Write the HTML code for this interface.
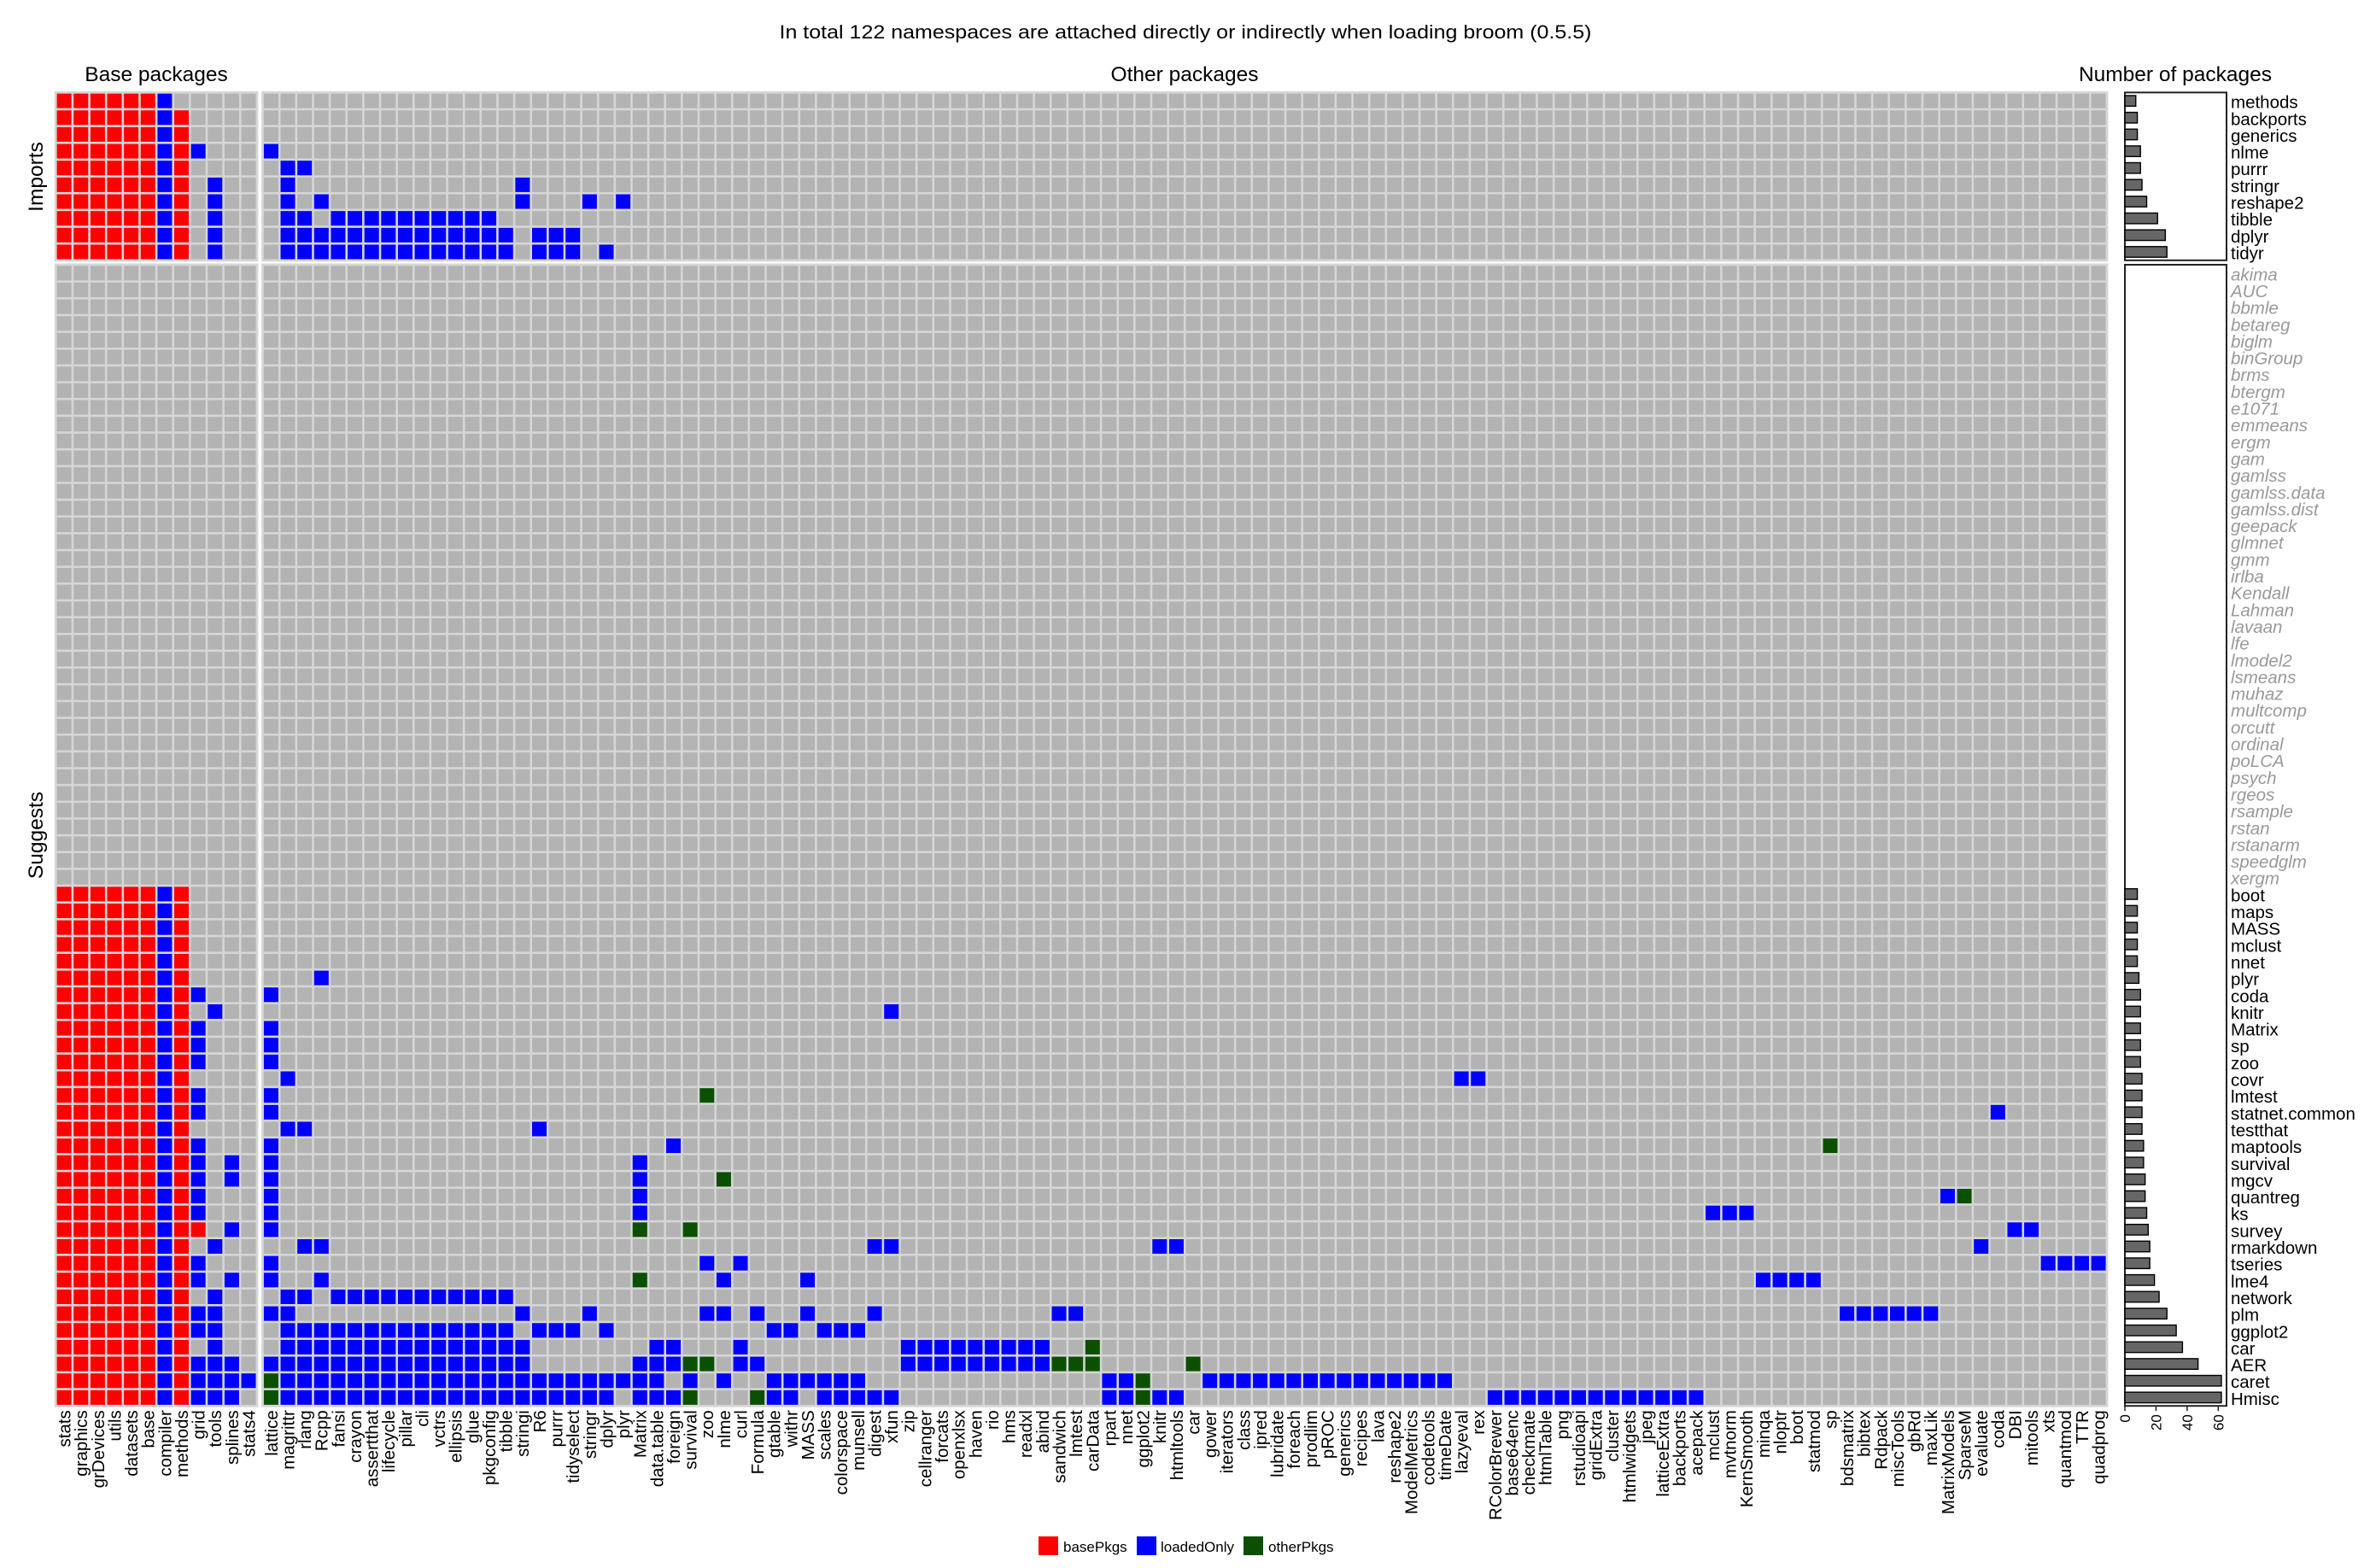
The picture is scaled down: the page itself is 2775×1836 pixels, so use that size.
<!DOCTYPE html>
<html><head><meta charset="utf-8"><title>broom namespaces</title>
<style>html,body{margin:0;padding:0;background:#fff}svg{display:block;font-family:"Liberation Sans",Arial,sans-serif}</style>
</head><body>
<svg id="chart" xmlns="http://www.w3.org/2000/svg" width="2775" height="1836" viewBox="0 0 2775 1836">
<rect width="2775" height="1836" fill="#fff"/>
<text x="1388" y="45" font-size="22.5" text-anchor="middle" textLength="951" lengthAdjust="spacingAndGlyphs">In total 122 namespaces are attached directly or indirectly when loading broom (0.5.5)</text>
<text x="183" y="95" font-size="24.5" text-anchor="middle">Base packages</text>
<text x="1387" y="95" font-size="24.5" text-anchor="middle">Other packages</text>
<text x="2547" y="95" font-size="24.5" text-anchor="middle">Number of packages</text>
<text x="50" y="207" font-size="24.5" text-anchor="middle" transform="rotate(-90 50 207)">Imports</text>
<text x="50" y="978" font-size="24.5" text-anchor="middle" transform="rotate(-90 50 978)">Suggests</text>
<g id="cells"></g>
<g id="bars"></g>
<g id="labels"></g>
<g>
<rect x="1216" y="1799" width="23" height="22" fill="#ff0000"/>
<text x="1245" y="1817" font-size="17">basePkgs</text>
<rect x="1331" y="1799" width="23" height="22" fill="#0000ff"/>
<text x="1359" y="1817" font-size="17">loadedOnly</text>
<rect x="1456" y="1799" width="23" height="22" fill="#0a5000"/>
<text x="1485" y="1817" font-size="17">otherPkgs</text>
</g>
</svg>
<script>
const baseCols = ["stats","graphics","grDevices","utils","datasets","base","compiler","methods","grid","tools","splines","stats4"];
const otherCols = ["lattice","magrittr","rlang","Rcpp","fansi","crayon","assertthat","lifecycle","pillar","cli","vctrs","ellipsis","glue","pkgconfig","tibble","stringi","R6","purrr","tidyselect","stringr","dplyr","plyr","Matrix","data.table","foreign","survival","zoo","nlme","curl","Formula","gtable","withr","MASS","scales","colorspace","munsell","digest","xfun","zip","cellranger","forcats","openxlsx","haven","rio","hms","readxl","abind","sandwich","lmtest","carData","rpart","nnet","ggplot2","knitr","htmltools","car","gower","iterators","class","ipred","lubridate","foreach","prodlim","pROC","generics","recipes","lava","reshape2","ModelMetrics","codetools","timeDate","lazyeval","rex","RColorBrewer","base64enc","checkmate","htmlTable","png","rstudioapi","gridExtra","cluster","htmlwidgets","jpeg","latticeExtra","backports","acepack","mclust","mvtnorm","KernSmooth","minqa","nloptr","boot","statmod","sp","bdsmatrix","bibtex","Rdpack","miscTools","gbRd","maxLik","MatrixModels","SparseM","evaluate","coda","DBI","mitools","xts","quantmod","TTR","quadprog"];
const importNames = ["methods","backports","generics","nlme","purrr","stringr","reshape2","tibble","dplyr","tidyr"];
const importBase = ["RRRRRRB.....","RRRRRRBR....","RRRRRRBR....","RRRRRRBRB...","RRRRRRBR....","RRRRRRBR.B..","RRRRRRBR.B..","RRRRRRBR.B..","RRRRRRBR.B..","RRRRRRBR.B.."];
const importOther = ["","","","0","1,2","1,15","1,3,15,19,21","1,2,4-13","1-14,16-18","1-14,16-18,20"];
const suggestMissing = ["akima","AUC","bbmle","betareg","biglm","binGroup","brms","btergm","e1071","emmeans","ergm","gam","gamlss","gamlss.data","gamlss.dist","geepack","glmnet","gmm","irlba","Kendall","Lahman","lavaan","lfe","lmodel2","lsmeans","muhaz","multcomp","orcutt","ordinal","poLCA","psych","rgeos","rsample","rstan","rstanarm","speedglm","xergm"];
const suggestNames = ["boot","maps","MASS","mclust","nnet","plyr","coda","knitr","Matrix","sp","zoo","covr","lmtest","statnet.common","testthat","maptools","survival","mgcv","quantreg","ks","survey","rmarkdown","tseries","lme4","network","plm","ggplot2","car","AER","caret","Hmisc"];
const suggestBase = ["RRRRRRBR....","RRRRRRBR....","RRRRRRBR....","RRRRRRBR....","RRRRRRBR....","RRRRRRBR....","RRRRRRBRB...","RRRRRRBR.B..","RRRRRRBRB...","RRRRRRBRB...","RRRRRRBRB...","RRRRRRBR....","RRRRRRBRB...","RRRRRRBRB...","RRRRRRBR....","RRRRRRBRB...","RRRRRRBRB.B.","RRRRRRBRB.B.","RRRRRRBRB...","RRRRRRBRB...","RRRRRRBRR.B.","RRRRRRBR.B..","RRRRRRBRB...","RRRRRRBRB.B.","RRRRRRBR.B..","RRRRRRBRBB..","RRRRRRBRBB..","RRRRRRBR.B..","RRRRRRBRBBB.","RRRRRRBRBBBB","RRRRRRBRBBB."];
const suggestOther = ["","","","","","3","0","37","0","0","0","1,71,72","0,26g","0,103","1,2,16","0,24,93g","0,22","0,22,27g","0,22,100,101g","0,22,86-88","0,22g,25g,104,105","2,3,36,37,53,54,102","0,26,28,106-109","0,3,22g,27,32,89-92","1,2,4-14","0,1,15,19,26,27,29,32,36,47,48,94-99","1-14,16-18,20,30,31,33-35","1-15,23,24,28,38-46,49g","0-15,22,23,24,25g,26g,28,29,38-46,47g,48g,49g,55g","0g,1-23,25,27,30-35,50,51,52g,56-70","0g,1-20,22-24,25g,29g,30,31,33-37,50,51,52g,53,54,73-85"];
const barTicks = [0,20,40,60];

const NS="http://www.w3.org/2000/svg";
const P=19.63, RP=19.65, baseX0=65.3, otherX0=307.6, impY0=108.3, sugY0=310, barX0=2488, barScale=1.822, barX1=2607;
const COL={R:"#ff0000",B:"#0000ff",G:"#0a5000",".":"#b3b3b3"};
function mk(tag,attrs,parent){const e=document.createElementNS(NS,tag);for(const k in attrs)e.setAttribute(k,attrs[k]);parent.appendChild(e);return e;}
function parseOther(s){const m=new Array(otherCols.length).fill(".");if(!s)return m;s.split(",").forEach(t=>{let c="B";if(t.endsWith("g")){c="G";t=t.slice(0,-1);}const p=t.split("-").map(Number);const a=p[0],b=p.length>1?p[1]:p[0];for(let i=a;i<=b;i++)m[i]=c;});return m;}
const importRows = importNames.map((n,i)=>({name:n,base:importBase[i].split(""),other:parseOther(importOther[i]),missing:false}));
const suggestRows = suggestMissing.map(n=>({name:n,base:new Array(12).fill("."),other:new Array(otherCols.length).fill("."),missing:true})).concat(suggestNames.map((n,i)=>({name:n,base:suggestBase[i].split(""),other:parseOther(suggestOther[i]),missing:false})));
const rowCounts = r=>r.base.concat(r.other).filter(c=>c!==".").length;

const cells=document.getElementById("cells"), bars=document.getElementById("bars"), labels=document.getElementById("labels");
function xBase(i){return baseX0+i*P;} function xOther(i){return otherX0+i*P;}
function xBar(v){return barX0+v*barScale;}
function drawPanel(rows,y0,sec){
  const h=rows.length*RP;
  let bg=mk("rect",{x:baseX0-1.5,y:y0-1.5,width:12*P+3,height:h+3,fill:"#d6d6d6"},cells);
  
  
  bg=mk("rect",{x:otherX0-1.5,y:y0-1.5,width:otherCols.length*P+3,height:h+3,fill:"#d6d6d6"},cells);
  
  
  const bp=mk("rect",{x:barX0,y:y0,width:barX1-barX0,height:h,fill:"#fff",stroke:"#222","stroke-width":2},bars);
  
  
  rows.forEach((r,ri)=>{
    const y=y0+ri*RP;
    r.base.forEach((c,ci)=>{const e=mk("rect",{x:xBase(ci)+1,y:y+1,width:P-2,height:RP-2,fill:COL[c],stroke:"#d6d6d6","stroke-width":0.6},cells);
      
      });
    r.other.forEach((c,ci)=>{const e=mk("rect",{x:xOther(ci)+1,y:y+1,width:P-2,height:RP-2,fill:COL[c],stroke:"#d6d6d6","stroke-width":0.6},cells);
      
      });
    const n=rowCounts(r);
    if(n>0){const b=mk("rect",{x:barX0,y:y+3.6,width:xBar(n)-barX0,height:RP-7.2,fill:"#666",stroke:"#000","stroke-width":1.4},bars);
      
      }
    const t=mk("text",{x:2612,y:y+RP/2+8.5,"font-size":20.5,fill:r.missing?"#999":"#000","font-style":r.missing?"italic":"normal"},labels);
    t.textContent=r.name;
    
    
  });
}
drawPanel(importRows,impY0,"imports");
drawPanel(suggestRows,sugY0,"suggests");
const bottom=sugY0+suggestRows.length*RP;
function xlab(name,cx){const y=bottom+5;const t=mk("text",{x:cx,y:y,"font-size":20.5,"text-anchor":"end",dy:"0.36em",transform:"rotate(-90 "+cx+" "+y+")"},labels);t.textContent=name;
  
  }
baseCols.forEach((n,i)=>xlab(n,xBase(i)+P/2));
otherCols.forEach((n,i)=>xlab(n,xOther(i)+P/2));
barTicks.forEach(v=>{const x=xBar(v);
  const l=mk("line",{x1:x,y1:bottom,x2:x,y2:bottom+6,stroke:"#222","stroke-width":1.5},bars);
  
  
  const y=bottom+10;
  const t=mk("text",{x:x,y:y,"font-size":17,"text-anchor":"end",dy:"0.36em",transform:"rotate(-90 "+x+" "+y+")"},bars);
  t.textContent=String(v);
  
  });
</script>
</body></html>
